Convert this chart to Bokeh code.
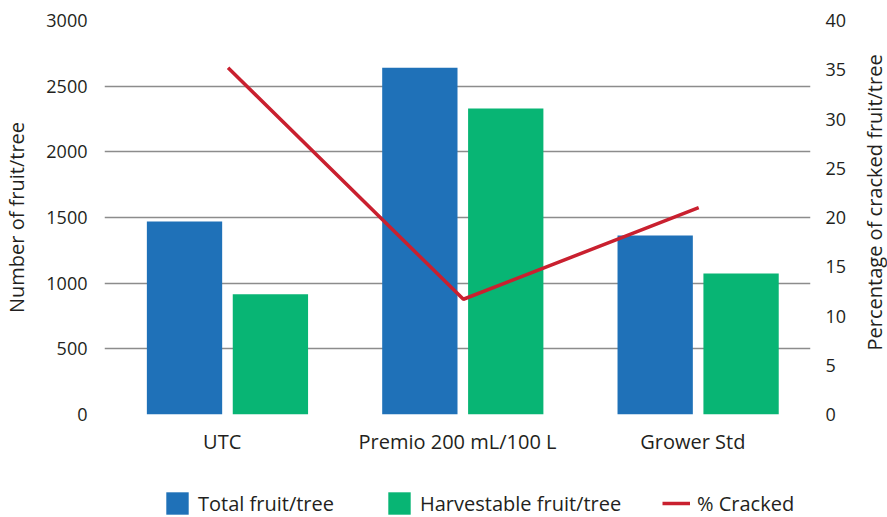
from math import pi
from bokeh.plotting import figure
from bokeh.layouts import column, row
from bokeh.models import (ColumnDataSource, FactorRange, Range1d, LinearAxis,
                          SingleIntervalTicker, Legend, LegendItem, Label)
from bokeh.transform import dodge
from bokeh.embed import file_html
from bokeh.resources import INLINE

# ---- data ----
categories = ["UTC", "Premio 200 mL/100 L", "Grower Std"]
total_fruit = [1470, 2640, 1363]
harvestable_fruit = [915, 2330, 1074]
pct_cracked = [35.2, 11.7, 21.0]
series_labels = ["Total fruit/tree", "Harvestable fruit/tree", "% Cracked"]
left_title = "Number of fruit/tree"
right_title = "Percentage of cracked fruit/tree"

FONT = "Open Sans"
TXT = "#231f20"
BLUE = "#1f71b8"
GREEN = "#08b574"
RED = "#c9202f"

src = ColumnDataSource(dict(cat=categories, total=total_fruit,
                            harv=harvestable_fruit, pct=pct_cracked))

p = figure(width=860, height=470, x_range=FactorRange(*categories, range_padding=0),
           y_range=Range1d(0, 3000), output_backend="svg", toolbar_location=None,
           min_border_left=100, min_border_right=50, min_border_top=20, min_border_bottom=56)
p.outline_line_color = None
p.background_fill_color = "white"
p.border_fill_color = "white"

p.extra_y_ranges = {"pct": Range1d(0, 40)}

p.vbar(x=dodge("cat", -0.16, range=p.x_range), top="total", width=0.32,
       source=src, fill_color=BLUE, line_color=None)
p.vbar(x=dodge("cat", 0.205, range=p.x_range), top="harv", width=0.32,
       source=src, fill_color=GREEN, line_color=None)
p.line(x=dodge("cat", 0.025, range=p.x_range), y="pct", source=src,
       y_range_name="pct", line_color=RED, line_width=3.5)

# grid
p.xgrid.grid_line_color = None
p.ygrid.grid_line_color = "#8c8c8c"
p.ygrid.grid_line_width = 1.5
p.ygrid.ticker = SingleIntervalTicker(interval=500)

# left axis
yl = p.yaxis[0]
yl.ticker = SingleIntervalTicker(interval=500)
yl.axis_line_color = None
yl.major_tick_line_color = None
yl.minor_tick_line_color = None
yl.major_label_text_font = FONT
yl.major_label_text_font_size = "18px"
yl.major_label_text_color = TXT
yl.major_label_standoff = 11
yl.axis_label = left_title
yl.axis_label_text_font = FONT
yl.axis_label_text_font_size = "20px"
yl.axis_label_text_font_style = "normal"
yl.axis_label_text_color = TXT
yl.axis_label_standoff = 13

# right axis
yr = LinearAxis(y_range_name="pct", ticker=SingleIntervalTicker(interval=5))
yr.axis_line_color = None
yr.major_tick_line_color = None
yr.minor_tick_line_color = None
yr.major_label_text_font = FONT
yr.major_label_text_font_size = "18px"
yr.major_label_text_color = TXT
yr.major_label_standoff = 9
p.add_layout(yr, "right")

# bottom axis
xa = p.xaxis[0]
xa.axis_line_color = None
xa.major_tick_line_color = None
xa.minor_tick_line_color = None
xa.major_label_text_font = FONT
xa.major_label_text_font_size = "20px"
xa.major_label_text_color = TXT
xa.major_label_standoff = 7

# ---- right-hand axis title strip ----
tf = figure(width=27, height=470, x_range=Range1d(0, 1), y_range=Range1d(0, 470),
            x_axis_type=None, y_axis_type=None, output_backend="svg",
            toolbar_location=None, min_border=0)
tf.grid.visible = False
tf.outline_line_color = None
tf.add_layout(Label(x=0.5, y=253, text=right_title, angle=pi / 2,
                    text_align="center", text_baseline="middle", text_font=FONT,
                    text_font_size="20px", text_color=TXT))

# ---- legend strip below the chart ----
lf = figure(width=887, height=47, x_range=Range1d(0, 887), y_range=Range1d(0, 47),
            x_axis_type=None, y_axis_type=None, output_backend="svg",
            toolbar_location=None, min_border=0)
lf.grid.visible = False
lf.outline_line_color = None
hidden = ColumnDataSource(dict(x=[-500], y=[-500]))
lb = lf.vbar(x="x", top="y", width=1, source=hidden, fill_color=BLUE, line_color=None)
lgr = lf.vbar(x="x", top="y", width=1, source=hidden, fill_color=GREEN, line_color=None)
lr = lf.line(x="x", y="y", source=hidden, line_color=RED, line_width=3.5)

for label, rend, xpos in zip(series_labels, [lb, lgr, lr], [163, 385, 662]):
    lg = Legend(items=[LegendItem(label=label, renderers=[rend])],
                location=(xpos, 0), orientation="horizontal",
                glyph_width=28, glyph_height=28, label_height=28,
                label_standoff=7, padding=0, margin=0,
                border_line_color=None, background_fill_alpha=0,
                label_text_font=FONT, label_text_font_size="20px",
                label_text_color=TXT)
    lf.add_layout(lg, "center")

layout = column(row(p, tf, spacing=0), lf, spacing=0)
open("out.html", "w").write(file_html(layout, INLINE))
